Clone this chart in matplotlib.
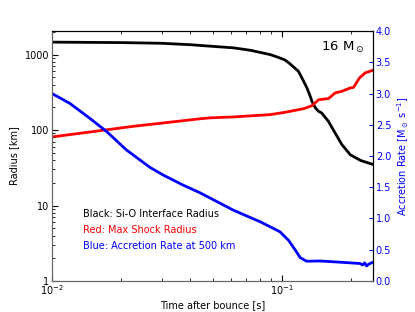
import matplotlib
matplotlib.use("Agg")
import matplotlib.pyplot as plt
import numpy as np
from matplotlib.ticker import FixedLocator, FixedFormatter, LogLocator, MultipleLocator, NullFormatter

# Black: Si-O interface radius [km]
t_black = [0.010, 0.020, 0.030, 0.040, 0.0441, 0.0615, 0.0728, 0.0888, 0.0951, 0.1022,
           0.105, 0.1086, 0.112, 0.118, 0.1222, 0.1285, 0.1328, 0.1351, 0.140, 0.144,
           0.149, 0.1594, 0.1705, 0.1824, 0.1984, 0.220, 0.249]
r_black = [1460, 1440, 1410, 1350, 1320, 1227, 1140, 1000, 931, 858,
           815, 750, 690, 600, 490, 361, 280, 240, 196, 178,
           168, 130, 91, 64, 47, 39.5, 35]

# Red: max shock radius [km]
t_red = [0.010, 0.0226, 0.0441, 0.0488, 0.0615, 0.0888, 0.1022, 0.1086, 0.1245, 0.1351,
         0.1444, 0.1594, 0.1705, 0.1824, 0.1984, 0.205, 0.2175, 0.230, 0.249]
r_red = [81, 112, 141, 145, 149, 160, 171, 177, 192, 210,
         252, 261, 310, 326, 361, 368, 490, 571, 620]

# Blue: accretion rate at 500 km [Msun/s]
t_blue = [0.010, 0.01198, 0.01464, 0.0173, 0.0211, 0.0267, 0.0305, 0.0372, 0.0441, 0.0615,
          0.0806, 0.0982, 0.1068, 0.1145, 0.120, 0.128, 0.1468, 0.180, 0.2185, 0.2245,
          0.229, 0.2335, 0.2385, 0.249]
m_blue = [3.00, 2.84, 2.60, 2.39, 2.095, 1.817, 1.694, 1.534, 1.41, 1.133,
          0.946, 0.786, 0.652, 0.492, 0.375, 0.316, 0.32, 0.30, 0.28, 0.256,
          0.29, 0.24, 0.27, 0.30]

fig = plt.figure(figsize=(4.15, 3.12), dpi=100)
ax = fig.add_axes([0.1253, 0.0994, 0.7735, 0.8012])
ax2 = ax.twinx()

ax.plot(t_black, r_black, color='black', lw=2.0)
ax.plot(t_red, r_red, color='red', lw=2.0)
ax2.plot(t_blue, m_blue, color='blue', lw=2.0)

ax.set_xscale('log')
ax.set_yscale('log')
ax.set_xlim(0.01, 0.249)
ax.set_ylim(1, 2050)
ax2.set_ylim(0, 4)

fs = 7
ax.yaxis.set_major_locator(FixedLocator([1, 10, 100, 1000]))
ax.yaxis.set_major_formatter(FixedFormatter(['1', '10', '100', '1000']))
ax.yaxis.set_minor_locator(LogLocator(base=10, subs=np.arange(2, 10)))
ax.xaxis.set_minor_locator(LogLocator(base=10, subs=np.arange(2, 10)))
ax.yaxis.set_minor_formatter(NullFormatter())
ax.xaxis.set_minor_formatter(NullFormatter())
ax.tick_params(axis='both', which='both', direction='in', labelsize=fs)
ax.tick_params(axis='y', which='major', length=4, pad=2)
ax.tick_params(axis='y', which='minor', length=2)
ax.tick_params(axis='x', which='major', length=4, top=True, pad=1.5)
ax.tick_params(axis='x', which='minor', length=2, top=True)

ax2.yaxis.set_major_locator(MultipleLocator(0.5))
ax2.tick_params(axis='y', direction='in', colors='blue', labelsize=fs, length=3, pad=2)

for s in ['left', 'bottom']:
    ax.spines[s].set_color('0.4')
    ax2.spines[s].set_color('0.4')

ax.set_xlabel('Time after bounce [s]', fontsize=fs, labelpad=2)
ax.set_ylabel('Radius [km]', fontsize=fs, labelpad=4)
ax2.set_ylabel(r'Accretion Rate [M$_\odot$ s$^{-1}$]', fontsize=fs, color='blue', labelpad=3)

ax.text(0.096, 0.268, 'Black: Si-O Interface Radius', transform=ax.transAxes,
        fontsize=fs, color='black', va='center')
ax.text(0.096, 0.204, 'Red: Max Shock Radius', transform=ax.transAxes,
        fontsize=fs, color='red', va='center')
ax.text(0.096, 0.140, 'Blue: Accretion Rate at 500 km', transform=ax.transAxes,
        fontsize=fs, color='blue', va='center')
ax.text(0.907, 0.933, r'16 M$_\odot$', transform=ax.transAxes,
        fontsize=9.5, color='black', va='center', ha='center')

fig.savefig('out.png', dpi=100)
